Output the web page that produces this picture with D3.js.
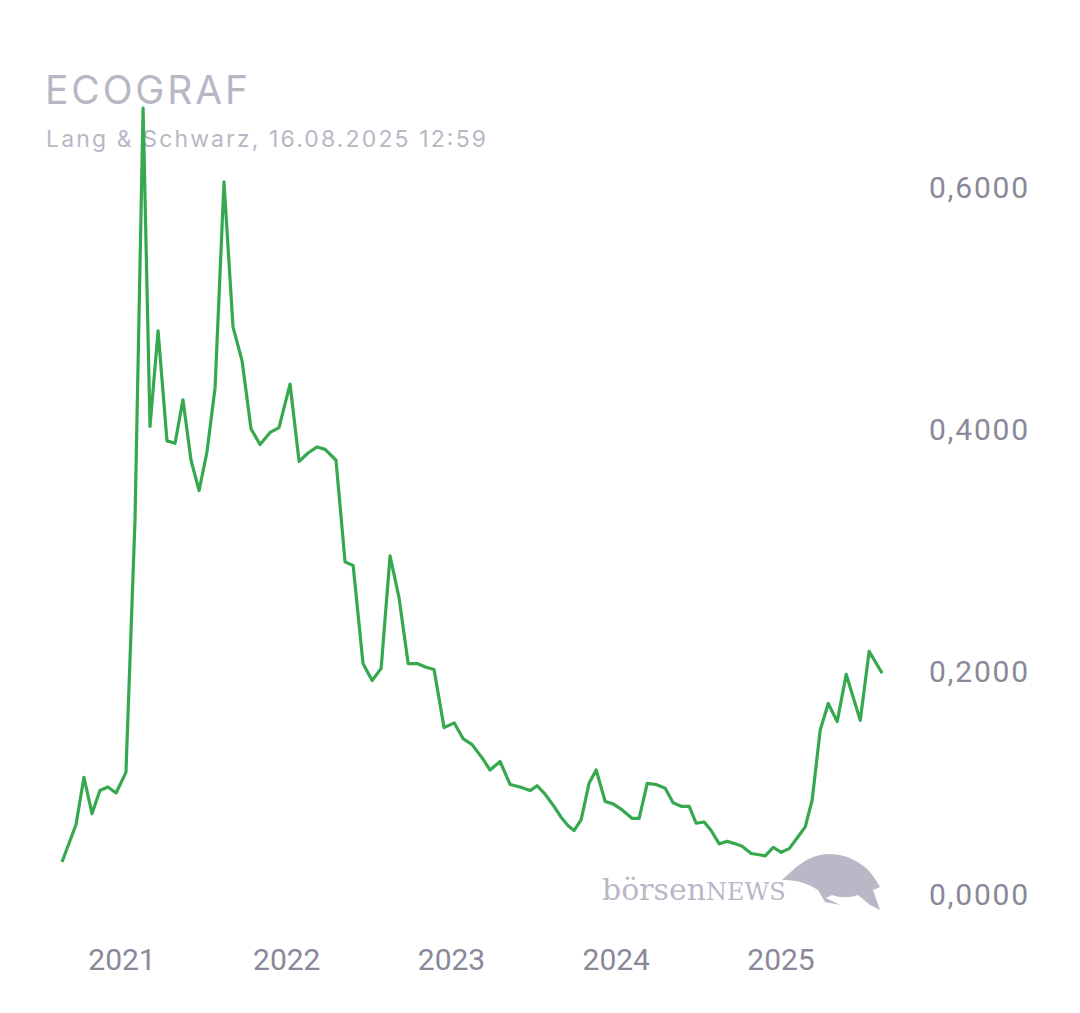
<!DOCTYPE html>
<html><head><meta charset="utf-8">
<script src="https://cdn.jsdelivr.net/npm/d3@7"></script>
<style>body{margin:0;background:#fff}</style></head>
<body><svg id="c" width="1080" height="1013"></svg>
<script>
const dates=[2020.636,2020.721,2020.769,2020.818,2020.866,2020.915,2020.964,2021.024,2021.079,2021.128,2021.170,2021.219,2021.273,2021.322,2021.370,2021.419,2021.468,2021.516,2021.565,2021.619,2021.674,2021.729,2021.783,2021.838,2021.899,2021.953,2022.020,2022.075,2022.129,2022.184,2022.233,2022.299,2022.354,2022.403,2022.463,2022.518,2022.573,2022.627,2022.682,2022.737,2022.791,2022.846,2022.894,2022.955,2023.016,2023.070,2023.125,2023.186,2023.234,2023.295,2023.356,2023.416,2023.477,2023.520,2023.568,2023.617,2023.665,2023.708,2023.744,2023.787,2023.835,2023.878,2023.933,2023.981,2024.036,2024.097,2024.139,2024.188,2024.242,2024.297,2024.345,2024.394,2024.443,2024.485,2024.534,2024.576,2024.625,2024.673,2024.722,2024.764,2024.819,2024.868,2024.904,2024.953,2025.001,2025.050,2025.099,2025.147,2025.189,2025.238,2025.287,2025.341,2025.396,2025.481,2025.535,2025.614];
const prices=[0.043,0.074,0.113,0.083,0.102,0.105,0.100,0.117,0.326,0.666,0.403,0.482,0.391,0.389,0.425,0.375,0.350,0.382,0.435,0.605,0.485,0.457,0.401,0.388,0.398,0.402,0.438,0.374,0.381,0.386,0.384,0.375,0.291,0.288,0.207,0.193,0.203,0.296,0.261,0.207,0.207,0.204,0.202,0.154,0.158,0.145,0.140,0.129,0.119,0.126,0.107,0.105,0.102,0.106,0.099,0.090,0.080,0.073,0.069,0.078,0.108,0.119,0.093,0.091,0.086,0.079,0.079,0.108,0.107,0.104,0.092,0.089,0.089,0.075,0.076,0.069,0.058,0.060,0.058,0.056,0.050,0.049,0.048,0.055,0.051,0.054,0.063,0.072,0.094,0.152,0.174,0.159,0.198,0.160,0.217,0.199];
const yTicks=[0,0.2,0.4,0.6];
const xTicks=[2021,2022,2023,2024,2025];
const svg=d3.select("#c");
const x=d3.scaleLinear().domain([2021,2025]).range([122,781]);
const y=d3.scaleLinear().domain([0,0.6]).range([914,188]);
const tfont="Inter, 'Open Sans', sans-serif";
const font="Roboto, 'Noto Sans', sans-serif";
svg.append("text").attr("x",45).attr("y",104).attr("font-family",tfont).attr("font-size",39).attr("fill","#b9b7c5").attr("textLength",203).text("ECOGRAF");
svg.append("text").attr("x",46).attr("y",147).attr("font-family",tfont).attr("font-size",23).attr("fill","#b9b7c5").attr("textLength",440).text("Lang & Schwarz, 16.08.2025 12:59");
svg.append("g").selectAll("text").data(yTicks).join("text")
 .attr("x",929).attr("y",d=>(d===0?y(d)-19:y(d))+10).attr("font-family",font).attr("font-size",30).attr("fill","#8a8899")
 .attr("textLength",99).text(d=>d3.format(".4f")(d).replace(".",","));
svg.append("g").selectAll("text").data(xTicks).join("text")
 .attr("x",d=>x(d)).attr("y",970).attr("text-anchor","middle").attr("font-family",font).attr("font-size",30).attr("fill","#8a8899").text(d=>d);
svg.append("text").attr("x",602).attr("y",900).attr("font-family","'DejaVu Serif','Liberation Serif',serif").attr("font-size",30).attr("fill","#b9b8c6")
 .html('börsen<tspan font-size="24">NEWS</tspan>');
svg.append("path").attr("fill","#b9b8c6").attr("d","M782,880 C795,868 805,858 820,855 C835,852 850,856 862,865 C870,870 876,880 880,887 L873,890 L880,910 L870,905 L858,895 C850,898 840,898 832,895 L826,898 L840,905 L825,902 L818,890 C805,882 795,880 782,880 Z");
svg.append("path").datum(dates.map((d,i)=>[d,prices[i]]))
 .attr("fill","none").attr("stroke","#36a84e").attr("stroke-width",3.2).attr("stroke-linejoin","round")
 .attr("d",d3.line().x(d=>x(d[0])).y(d=>y(d[1])));
</script></body></html>
